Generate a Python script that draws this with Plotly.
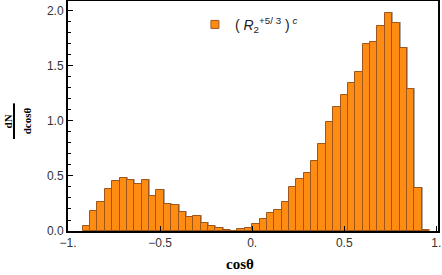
import plotly.graph_objects as go

# ---- data ----
bin_width = 0.04
bin_centers = [
    -0.90, -0.86, -0.82, -0.78, -0.74, -0.70, -0.66, -0.62, -0.58, -0.54,
    -0.50, -0.46, -0.42, -0.38, -0.34, -0.30, -0.26, -0.22, -0.18, -0.14,
    -0.10, -0.06, -0.02,
    0.02, 0.06, 0.10, 0.14, 0.18, 0.22, 0.26, 0.30, 0.34, 0.38,
    0.42, 0.46, 0.50, 0.54, 0.58, 0.62, 0.66, 0.70, 0.74, 0.78,
    0.82, 0.86, 0.90, 0.94,
]
density = [
    0.045, 0.18, 0.26, 0.38, 0.45, 0.48, 0.46, 0.43, 0.463, 0.32,
    0.371, 0.247, 0.234, 0.174, 0.128, 0.134, 0.073, 0.043, 0.03, 0.01,
    0.0, 0.015, 0.027,
    0.064, 0.107, 0.164, 0.189, 0.262, 0.399, 0.469, 0.527, 0.633, 0.791,
    0.992, 1.129, 1.239, 1.342, 1.449, 1.696, 1.714, 1.863, 1.979, 1.887,
    1.659, 1.294, 0.39, 0.006,
]
x_tick_vals = [-1, -0.5, 0, 0.5, 1]
x_tick_text = ["\u22121.", "\u22120.5", "0.", "0.5", "1."]
y_tick_vals = [0, 0.5, 1.0, 1.5, 2.0]
y_tick_text = ["0.0", "0.5", "1.0", "1.5", "2.0"]
series_name = "( <i>R</i><sub>2</sub><sup>+5/ 3</sup> )<sup> <i>c</i></sup>"
x_title = "<b>cos\u03b8</b>"
y_title_num = "<b>dN</b>"
y_title_den = "<b>dcos\u03b8</b>"

# ---- style ----
FILL = "#FF8C12"
EDGE = "#A0561A"
SHADOW = "#A9A9A9"
X_RANGE = [-1.0, 1.009]
Y_RANGE = [0.0, 2.09]
SHADOW_DX = 0.0054   # ~1 px
SHADOW_DY = 0.009    # ~1 px

fig = go.Figure()
# subtle drop shadow like Mathematica's default bar edge shading
fig.add_bar(
    x=bin_centers, y=[v + SHADOW_DY for v in density],
    width=bin_width, offset=-bin_width / 2 + SHADOW_DX,
    marker=dict(color=SHADOW, line=dict(width=0)),
    showlegend=False, hoverinfo="skip",
)
fig.add_bar(
    x=bin_centers, y=density, width=bin_width,
    marker=dict(color=FILL, line=dict(color=EDGE, width=1)),
    name=series_name, showlegend=False,
)
# legend entry
fig.add_scatter(
    x=[None], y=[None], mode="markers", name=series_name,
    marker=dict(symbol="square", size=8, color=FILL,
                line=dict(color=EDGE, width=1)),
)

tick_font = dict(family="Liberation Sans, Arial, sans-serif", size=12, color="#333333")
serif = "Liberation Serif, Times New Roman, serif"

fig.update_layout(
    width=442, height=275,
    margin=dict(l=68, r=4, t=1, b=44, autoexpand=False),
    paper_bgcolor="white", plot_bgcolor="white",
    barmode="overlay", bargap=0,
    showlegend=True,
    legend=dict(x=0.343, y=0.966, xanchor="left", yanchor="top",
                bgcolor="rgba(0,0,0,0)",
                font=dict(family="Liberation Sans, Arial, sans-serif", size=14, color="#222222")),
    xaxis=dict(
        range=X_RANGE, showline=True, linecolor="black", linewidth=2, mirror=True,
        ticks="inside", ticklen=5, tickwidth=1, tickcolor="black",
        tickmode="array", tickvals=x_tick_vals, ticktext=x_tick_text,
        tickfont=tick_font, showgrid=False, zeroline=False, automargin=False,
    ),
    yaxis=dict(
        range=Y_RANGE, showline=True, linecolor="black", linewidth=2, mirror=True,
        ticks="inside", ticklen=5, tickwidth=1, tickcolor="black",
        tickmode="array", tickvals=y_tick_vals, ticktext=y_tick_text,
        tickfont=tick_font, showgrid=False, zeroline=False, automargin=False,
        minor=dict(tickmode="linear", tick0=0, dtick=0.1, ticks="inside",
                   ticklen=3, tickwidth=1, tickcolor="black", showgrid=False),
    ),
    annotations=[
        dict(text=x_title, xref="paper", yref="paper", x=0.466, y=-0.145,
             xanchor="center", yanchor="middle", showarrow=False,
             font=dict(family=serif, size=15, color="black")),
        dict(text=y_title_num, xref="paper", yref="paper", x=-0.161, y=0.478,
             xanchor="center", yanchor="middle", showarrow=False, textangle=-90,
             font=dict(family=serif, size=11, color="black")),
        dict(text=y_title_den, xref="paper", yref="paper", x=-0.110, y=0.478,
             xanchor="center", yanchor="middle", showarrow=False, textangle=-90,
             font=dict(family=serif, size=11, color="black")),
    ],
    shapes=[
        dict(type="line", xref="paper", yref="paper", x0=-0.146, x1=-0.146,
             y0=0.40, y1=0.555, line=dict(color="black", width=2)),
    ],
)

fig.write_html(
    "out.html",
    config={"displayModeBar": False},
    post_script="document.body.style.margin='0px';document.body.style.overflow='hidden';",
)
